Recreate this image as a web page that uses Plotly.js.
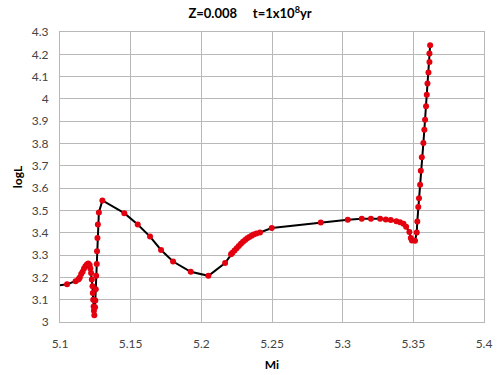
<!DOCTYPE html>
<html>
<head>
<meta charset="utf-8">
<script src="https://cdn.plot.ly/plotly-3.0.1.min.js"></script>
<style>html,body{margin:0;padding:0;background:#fff;}#chart{width:500px;height:375px;}</style>
</head>
<body>
<div id="chart"></div>
<script>
// Magnitude Mi (x) and logL (y) along the track
const mi = [5.09, 5.105, 5.111, 5.113, 5.114, 5.1135, 5.115, 5.116, 5.117, 5.118, 5.119, 5.120,
  5.121, 5.1215, 5.122, 5.1225, 5.123, 5.1232, 5.1235, 5.1238, 5.124, 5.1243,
  5.1248, 5.125, 5.1253, 5.1256, 5.126, 5.1262, 5.1265, 5.1268, 5.1275, 5.130,
  5.1455, 5.155, 5.1637, 5.1715, 5.180, 5.1925, 5.205, 5.2168, 5.221,
  5.222, 5.2235, 5.225, 5.2265, 5.228, 5.2295, 5.231, 5.2325, 5.234, 5.2355, 5.237, 5.239, 5.2415,
  5.2498, 5.2845, 5.3036, 5.3135, 5.320, 5.3265, 5.3305, 5.334, 5.338,
  5.3406, 5.343, 5.3449, 5.3472, 5.3482, 5.349, 5.3512, 5.3524, 5.3528, 5.3535, 5.354, 5.3548,
  5.3553, 5.356, 5.3571, 5.3578, 5.3583, 5.359, 5.3595, 5.360, 5.3607, 5.3614, 5.3614, 5.3619];
const logL = [3.155, 3.169, 3.183, 3.19, 3.2, 3.195, 3.215, 3.225, 3.24, 3.25, 3.258, 3.262,
  3.255, 3.24, 3.22, 3.19, 3.16, 3.13, 3.10, 3.07, 3.05, 3.03,
  3.066, 3.096, 3.147, 3.207, 3.26, 3.317, 3.377, 3.437, 3.491, 3.545,
  3.488, 3.437, 3.383, 3.323, 3.271, 3.225, 3.207, 3.264, 3.304,
  3.31, 3.32, 3.331, 3.341, 3.351, 3.36, 3.368, 3.375, 3.381, 3.387, 3.392, 3.397, 3.401,
  3.421, 3.446, 3.458, 3.4625, 3.4625, 3.4625, 3.459, 3.457, 3.452,
  3.4477, 3.440, 3.4266, 3.404, 3.377, 3.365, 3.364, 3.401, 3.450, 3.515, 3.555, 3.615,
  3.678, 3.738, 3.802, 3.862, 3.907, 3.967, 4.019, 4.069, 4.119, 4.166, 4.2034, 4.241];

const font = "Lato, 'Open Sans', sans-serif";
Plotly.newPlot('chart', [{
  x: mi, y: logL, type: 'scatter', mode: 'lines+markers',
  line: {color: '#000000', width: 2},
  marker: {color: '#e3000f', size: 6, symbol: 'circle'},
  showlegend: false
}], {
  width: 500, height: 375,
  margin: {l: 60, r: 16, t: 32, b: 53},
  paper_bgcolor: '#fff', plot_bgcolor: '#fff',
  title: {text: '<b>Z=0.008&nbsp;&nbsp;&nbsp;&nbsp;&nbsp;t=1x10<sup>8</sup>yr</b>', x: 0.5, y: 0.975, yanchor: 'top',
    font: {family: font, size: 13, color: '#000'}},
  xaxis: {range: [5.1, 5.4], dtick: 0.05, tick0: 5.1, showgrid: true, gridcolor: '#b8b8b8', gridwidth: 1,
    zeroline: false, showline: true, linecolor: '#b8b8b8', mirror: true, ticks: '',
    ticklabelstandoff: 11,
    tickfont: {family: font, size: 12, color: '#444'},
    title: {text: '<b>Mi</b>', font: {family: font, size: 12, color: '#000'}, standoff: 10}},
  yaxis: {range: [3, 4.3], dtick: 0.1, tick0: 3, showgrid: true, gridcolor: '#b8b8b8', gridwidth: 1,
    zeroline: false, showline: true, linecolor: '#b8b8b8', mirror: true, ticks: '',
    ticklabelstandoff: 8,
    tickfont: {family: font, size: 12, color: '#444'},
    title: {text: '<b>logL</b>', font: {family: font, size: 12, color: '#000'}, standoff: 6}}
}, {staticPlot: true});
</script>
</body>
</html>
